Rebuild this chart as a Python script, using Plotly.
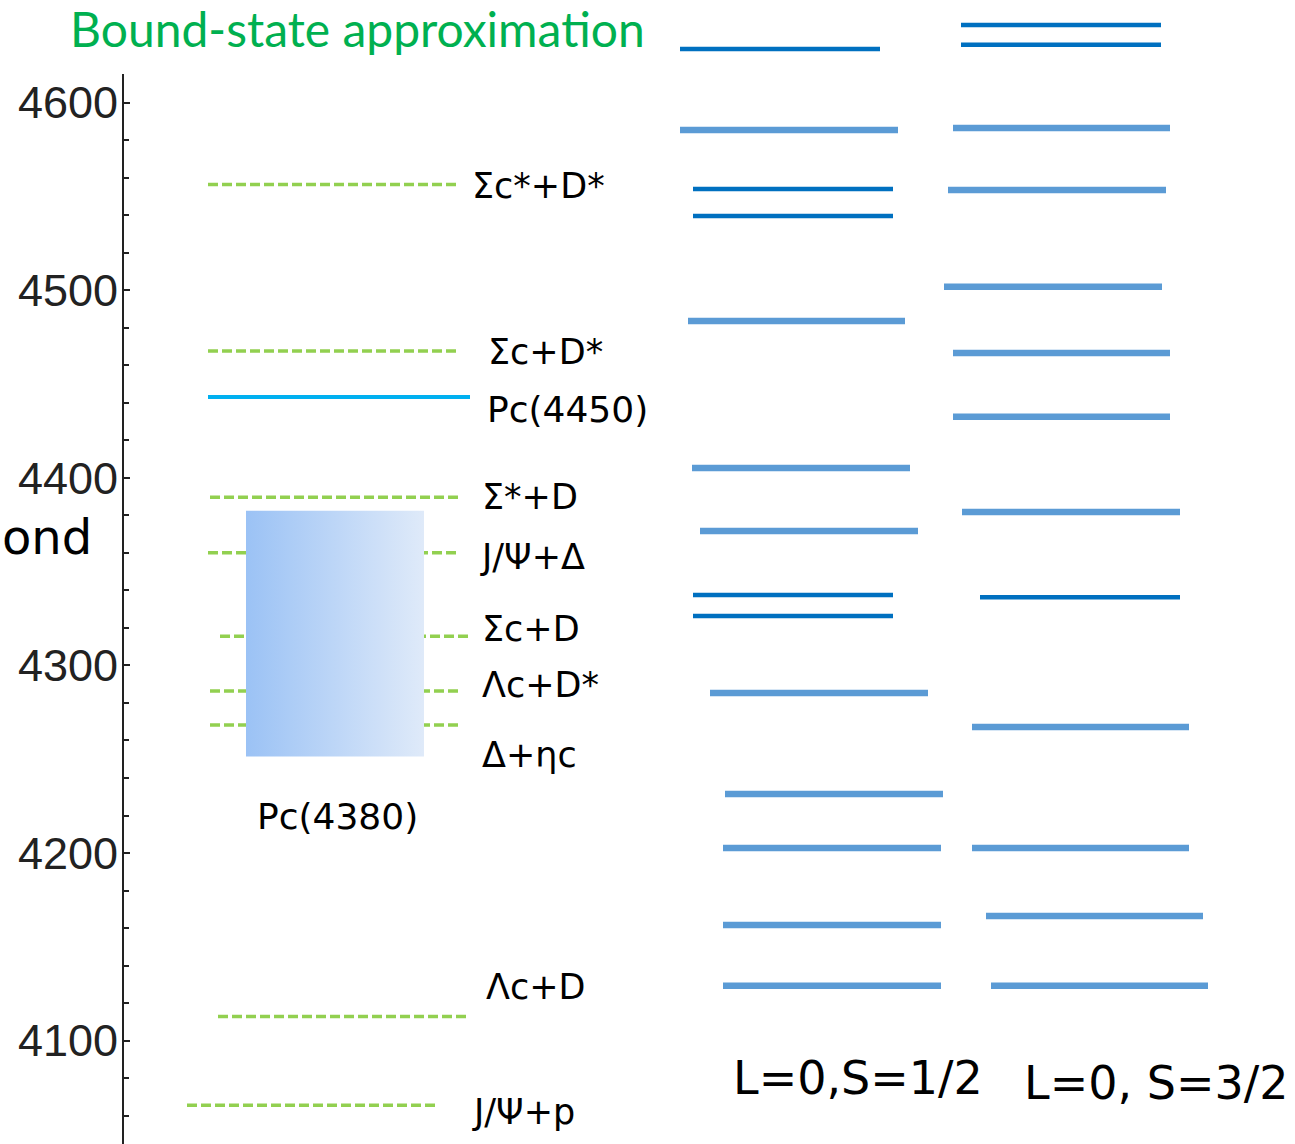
import plotly.graph_objects as go

# ---------------- data ----------------
threshold_names = ["Σc*+D*", "Σc+D*", "Σ*+D", "J/Ψ+Δ", "Σc+D", "Λc+D*", "Δ+ηc", "Λc+D", "J/Ψ+p"]
threshold_masses = [4556.4, 4467.6, 4389.6, 4360.0, 4315.5, 4286.4, 4268.3, 4112.8, 4065.6]

pc4450_mass = 4443.1
pc4380_low = 4251.4
pc4380_high = 4382.4

col1_masses = [4628.6, 4585.4, 4554.0, 4539.6, 4483.6, 4405.3, 4371.7, 4337.5, 4326.3,
               4285.3, 4231.5, 4202.7, 4161.7, 4129.2]
col1_kinds = ["d", "l", "d", "d", "l", "l", "l", "d", "d", "l", "l", "l", "l", "l"]

col2_masses = [4641.4, 4630.8, 4586.5, 4553.4, 4501.8, 4466.6, 4432.5, 4381.8, 4336.4,
               4267.2, 4202.7, 4166.5, 4129.2]
col2_kinds = ["d", "d", "l", "l", "l", "l", "l", "l", "d", "l", "l", "l", "l"]

y_ticks = [4100, 4200, 4300, 4400, 4500, 4600]
minor_ticks = [v for v in range(4060, 4601, 20) if v % 100 != 0]

# ---------------- layout (pixel-like x positions) ----------------
thr_x0 = [208, 208, 210, 208, 220, 210, 210, 218, 187]
thr_x1 = [458, 458, 460, 460, 470, 460, 460, 467, 435]
lab_x = [470, 486, 480, 478, 480, 480, 480, 484, 470]
lab_shift = [-2, -1, 0, -4, 7, 6, -30, 30, -7]

col1_x0 = [680, 680, 693, 693, 688, 692, 700, 693, 693, 710, 725, 723, 723, 723]
col1_x1 = [880, 898, 893, 893, 905, 910, 918, 893, 893, 928, 943, 941, 941, 941]
col2_x0 = [961, 961, 953, 948, 944, 953, 953, 962, 980, 972, 972, 986, 991]
col2_x1 = [1161, 1161, 1170, 1166, 1162, 1170, 1170, 1180, 1180, 1189, 1189, 1203, 1208]

W, H = 1295, 1144
AXIS_X = 123
GREEN = "#92d050"
DARK = "#0070c0"
LIGHT = "#5b9bd5"
LABEL_FONT = "DejaVu Sans"

fig = go.Figure()

# thresholds (dashed)
for m, a, b in zip(threshold_masses, thr_x0, thr_x1):
    fig.add_trace(go.Scatter(x=[a, b], y=[m, m], mode="lines",
                             line=dict(color=GREEN, width=3.5, dash="10px,4px"),
                             hoverinfo="skip", showlegend=False))

# Pc(4450)
fig.add_trace(go.Scatter(x=[208, 470], y=[pc4450_mass, pc4450_mass], mode="lines",
                         line=dict(color="#00b0f0", width=4),
                         hoverinfo="skip", showlegend=False))

# Pc(4380) box with horizontal gradient
fig.add_trace(go.Scatter(x=[246, 424, 424, 246, 246],
                         y=[pc4380_low, pc4380_low, pc4380_high, pc4380_high, pc4380_low],
                         mode="lines", line=dict(width=0), fill="toself",
                         fillgradient=dict(type="horizontal",
                                           colorscale=[[0, "#9bc2f5"], [1, "#dfeaf9"]]),
                         hoverinfo="skip", showlegend=False))

# model columns
for masses, kinds, xs0, xs1 in [(col1_masses, col1_kinds, col1_x0, col1_x1),
                                (col2_masses, col2_kinds, col2_x0, col2_x1)]:
    for m, k, a, b in zip(masses, kinds, xs0, xs1):
        fig.add_trace(go.Scatter(x=[a, b], y=[m, m], mode="lines",
                                 line=dict(color=DARK if k == "d" else LIGHT,
                                           width=4.5 if k == "d" else 6.5),
                                 hoverinfo="skip", showlegend=False))

annotations = []
for name, m, x, s in zip(threshold_names, threshold_masses, lab_x, lab_shift):
    annotations.append(dict(x=x, y=m, xref="x", yref="y", text=name, showarrow=False,
                            xanchor="left", yanchor="middle", yshift=s,
                            font=dict(family=LABEL_FONT, size=35, color="black")))
annotations.append(dict(x=485, y=pc4450_mass, xref="x", yref="y", text="Pc(4450)",
                        showarrow=False, xanchor="left", yanchor="middle", yshift=-13,
                        font=dict(family=LABEL_FONT, size=36, color="black")))
annotations.append(dict(x=337, y=pc4380_low, xref="x", yref="y", text="Pc(4380)",
                        showarrow=False, xanchor="center", yanchor="middle", yshift=-60,
                        font=dict(family=LABEL_FONT, size=36, color="black")))
annotations.append(dict(x=858, y=0.058, xref="x", yref="paper", text="L=0,S=1/2",
                        showarrow=False, xanchor="center", yanchor="middle",
                        font=dict(family=LABEL_FONT, size=46, color="black")))
annotations.append(dict(x=1156, y=0.053, xref="x", yref="paper", text="L=0, S=3/2",
                        showarrow=False, xanchor="center", yanchor="middle",
                        font=dict(family=LABEL_FONT, size=46, color="black")))
annotations.append(dict(x=0, y=1 - 537 / H, xref="x", yref="paper", text="ond",
                        showarrow=False, xanchor="left", yanchor="middle",
                        font=dict(family=LABEL_FONT, size=48, color="black")))
annotations.append(dict(x=357, y=1 - 28 / H, xref="x", yref="paper",
                        text="Bound-state approximation", showarrow=False,
                        xanchor="center", yanchor="middle",
                        font=dict(family="Lato", size=48, color="#00b050")))

# axis line (only up to ~4615 as in the reference)
shapes = [dict(type="line", xref="x", yref="y", x0=AXIS_X, x1=AXIS_X, y0=4000, y1=4615.3,
               line=dict(color="#222222", width=2))]

fig.update_layout(
    width=W, height=H, margin=dict(l=0, r=0, t=0, b=0),
    paper_bgcolor="white", plot_bgcolor="white",
    xaxis=dict(range=[0, W], domain=[0, 1], visible=False, fixedrange=True),
    yaxis=dict(range=[4044.9, 4654.7], domain=[0, 1], anchor="free", position=AXIS_X / W,
               showline=False, showgrid=False, zeroline=False,
               tickmode="array", tickvals=y_ticks, ticktext=[str(v) for v in y_ticks],
               ticks="inside", ticklen=6, tickwidth=1.5, tickcolor="#222222",
               tickfont=dict(family="Liberation Sans", size=45, color="#222222"),
               ticklabelstandoff=5,
               minor=dict(tickmode="array", tickvals=minor_ticks, ticks="inside",
                          ticklen=5, tickwidth=1.5, tickcolor="#222222", showgrid=False)),
    annotations=annotations, shapes=shapes, showlegend=False,
)

fig.write_html("out.html")
